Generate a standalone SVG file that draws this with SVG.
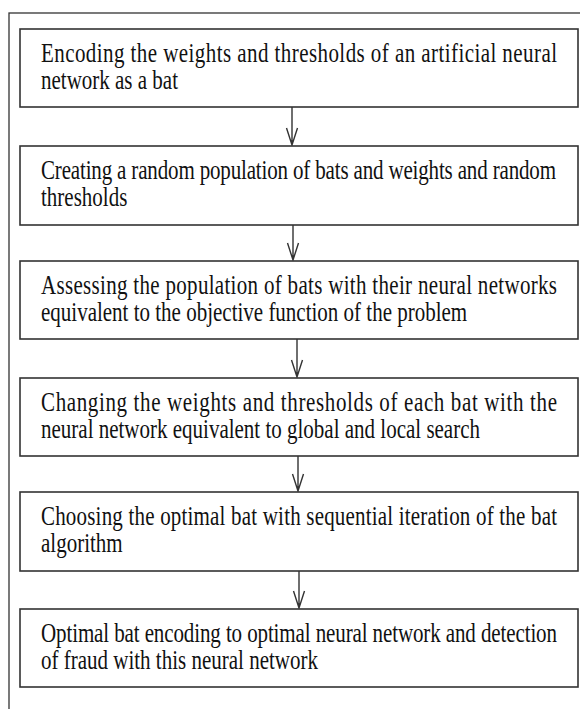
<svg xmlns="http://www.w3.org/2000/svg" width="580" height="709" viewBox="0 0 580 709">
<style>
.frame{fill:none;stroke:#333;stroke-width:1.3}
.box{fill:#fff;stroke:#333;stroke-width:1.6}
.t{font-family:"Liberation Serif","Times New Roman",serif;font-size:21px;fill:#111}
.c{stroke:#333;stroke-width:1.4;fill:none}
</style>
<rect width="580" height="709" fill="#fff"/>
<rect class="frame" x="9" y="13" width="620" height="720"/>
<g id="connectors">
<path class="c" d="M292 107V145M286.5 128L292 145L297.5 128"/>
<path class="c" d="M293 225V260M287.5 243L293 260L298.5 243"/>
<path class="c" d="M297 339V377M291.5 360L297 377L302.5 360"/>
<path class="c" d="M298 456V491M292.5 474L298 491L303.5 474"/>
<path class="c" d="M299 571V608M293.5 591L299 608L304.5 591"/>
</g>
<g id="n1">
<rect class="box" x="20" y="29" width="558" height="78"/>
<g transform="translate(41,62) scale(1,1.25)"><text class="t" x="0" y="0" textLength="516" lengthAdjust="spacing">Encoding the weights and thresholds of an artificial neural</text><text class="t" x="0" y="21.6">network as a bat</text></g>
</g>
<g id="n2">
<rect class="box" x="20" y="146" width="558" height="79"/>
<g transform="translate(41,179) scale(1,1.25)"><text class="t" x="0" y="0" textLength="515" lengthAdjust="spacing">Creating a random population of bats and weights and random</text><text class="t" x="0" y="21.6">thresholds</text></g>
</g>
<g id="n3">
<rect class="box" x="20" y="261" width="558" height="78"/>
<g transform="translate(41,294) scale(1,1.25)"><text class="t" x="0" y="0" textLength="516" lengthAdjust="spacing">Assessing the population of bats with their neural networks</text><text class="t" x="0" y="21.6">equivalent to the objective function of the problem</text></g>
</g>
<g id="n4">
<rect class="box" x="20" y="378" width="558" height="78"/>
<g transform="translate(41,411) scale(1,1.25)"><text class="t" x="0" y="0" textLength="516" lengthAdjust="spacing">Changing the weights and thresholds of each bat with the</text><text class="t" x="0" y="21.6">neural network equivalent to global and local search</text></g>
</g>
<g id="n5">
<rect class="box" x="20" y="492" width="558" height="79"/>
<g transform="translate(41,525) scale(1,1.25)"><text class="t" x="0" y="0" textLength="516" lengthAdjust="spacing">Choosing the optimal bat with sequential iteration of the bat</text><text class="t" x="0" y="21.6">algorithm</text></g>
</g>
<g id="n6">
<rect class="box" x="20" y="609" width="558" height="78"/>
<g transform="translate(41,642) scale(1,1.25)"><text class="t" x="0" y="0" textLength="516" lengthAdjust="spacing">Optimal bat encoding to optimal neural network and detection</text><text class="t" x="0" y="21.6">of fraud with this neural network</text></g>
</g>
</svg>
